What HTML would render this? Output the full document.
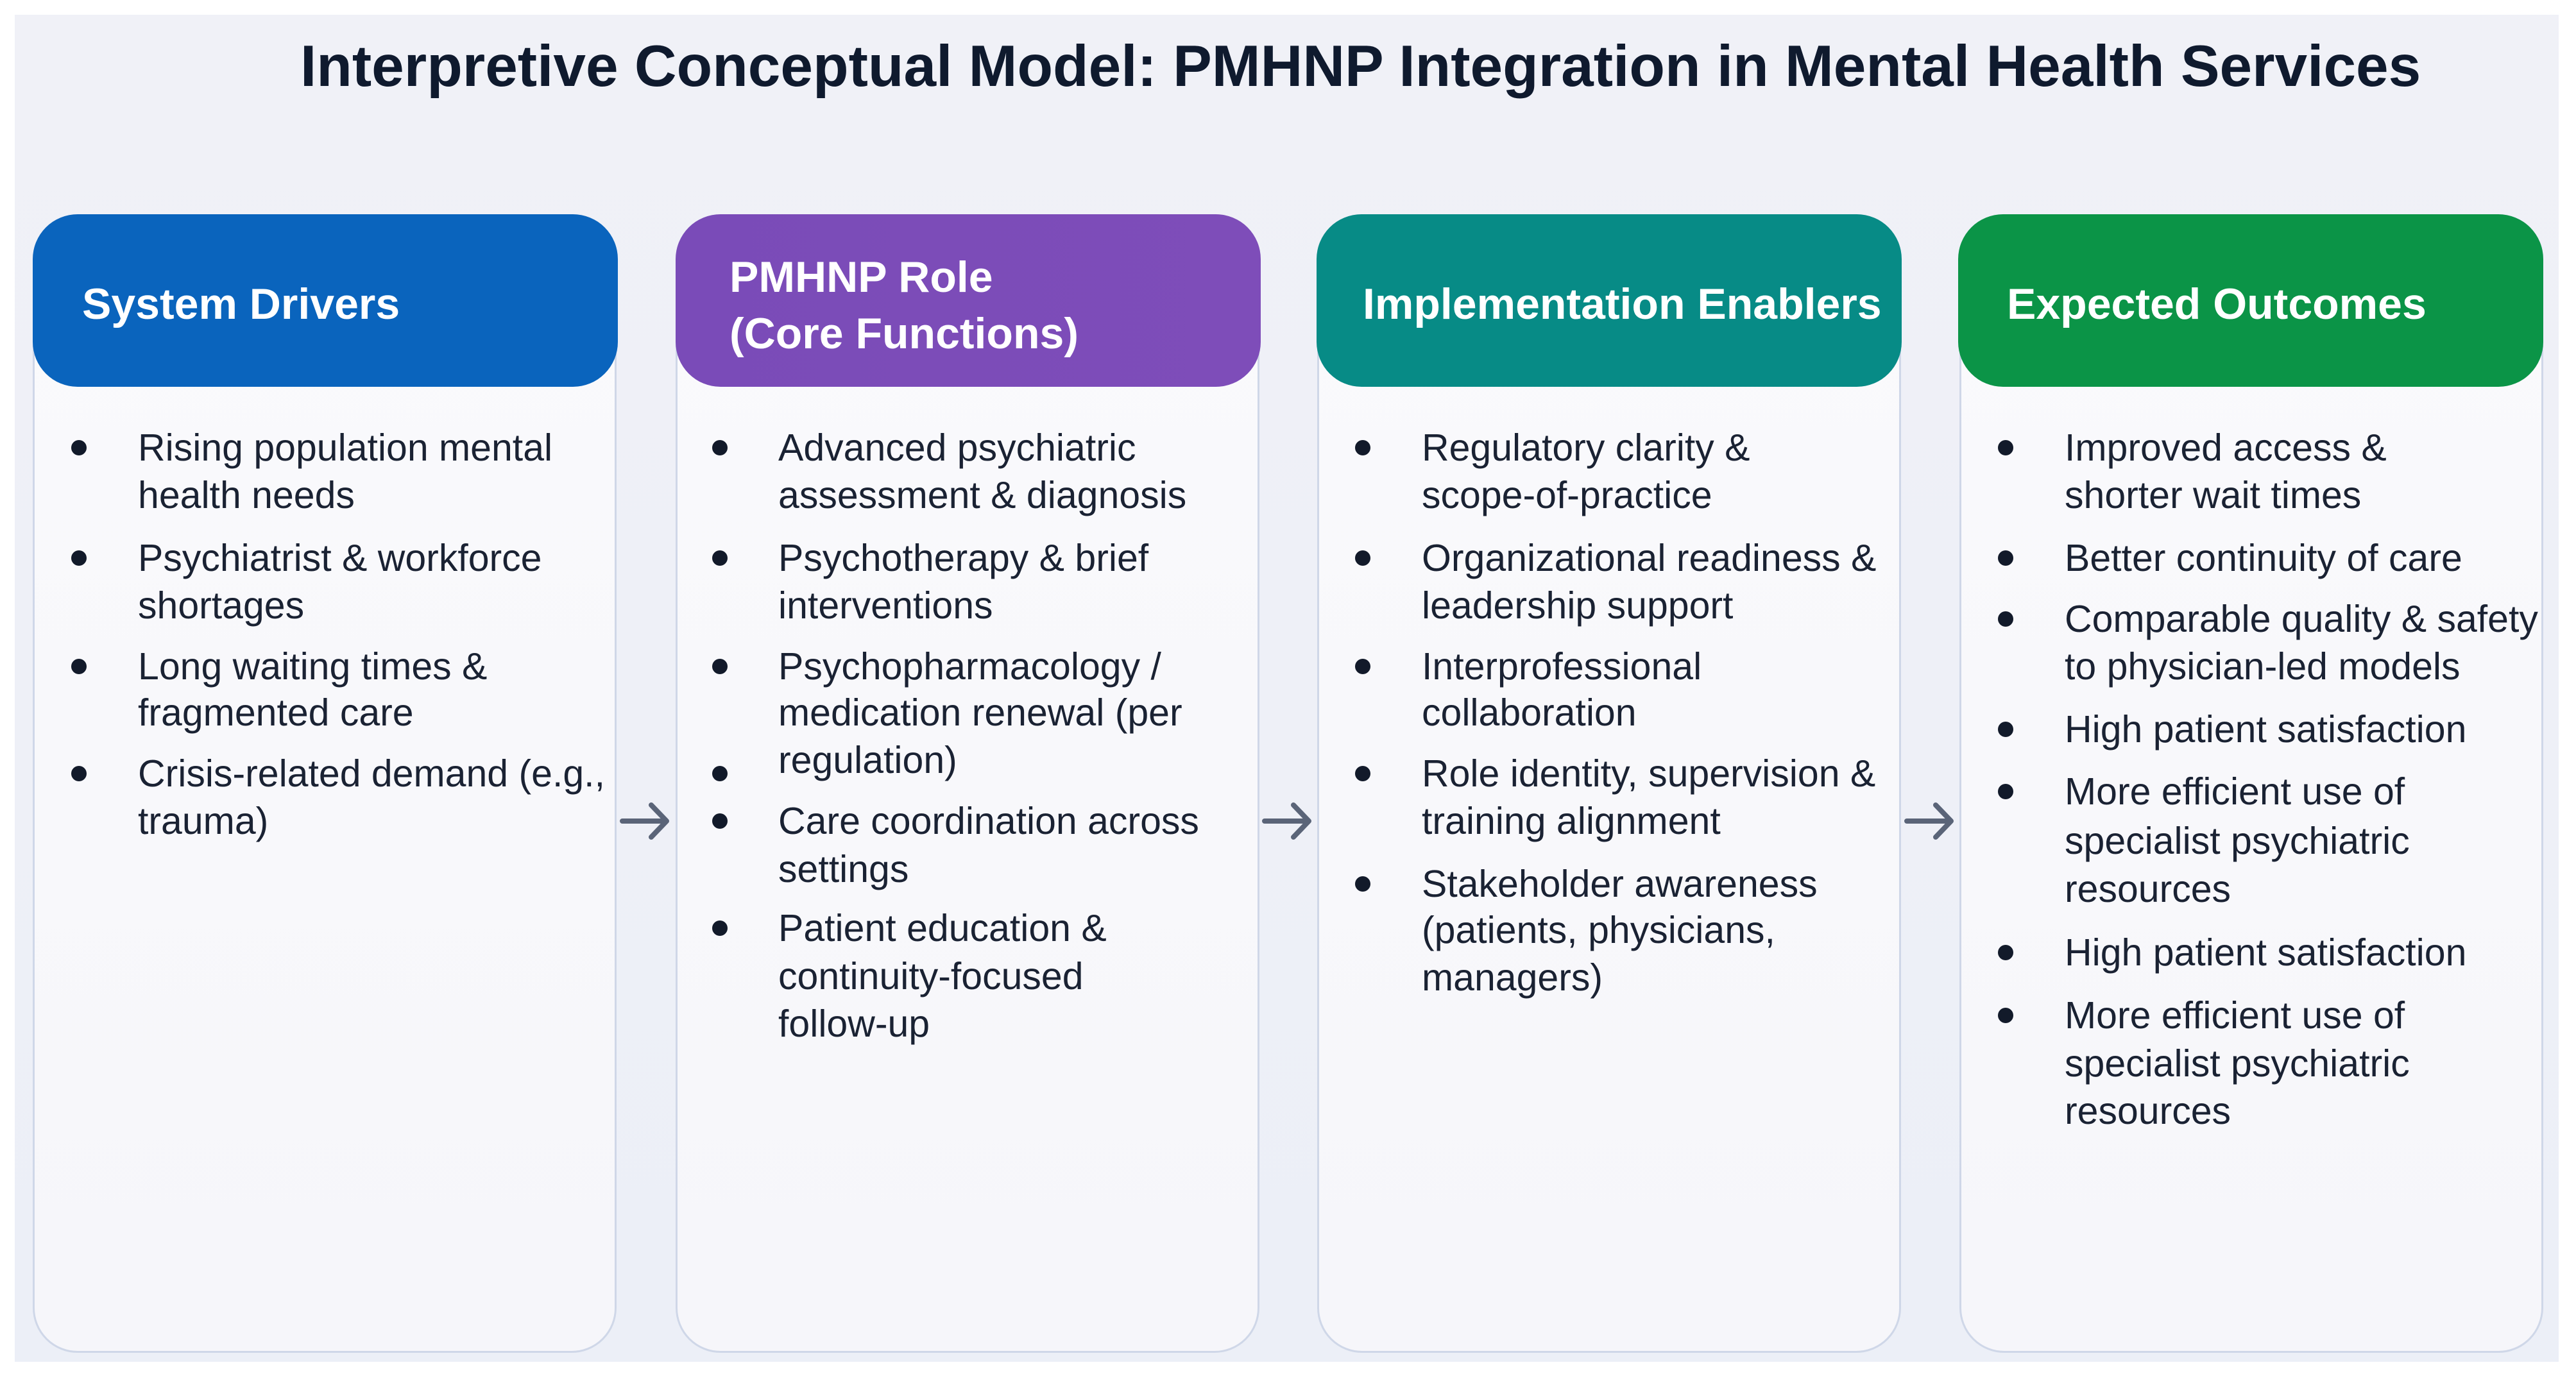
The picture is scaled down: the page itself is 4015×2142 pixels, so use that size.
<!DOCTYPE html>
<html><head><meta charset="utf-8"><style>
html,body{margin:0;padding:0;background:#fff;}
body{width:4015px;height:2142px;position:relative;overflow:hidden;font-family:"Liberation Sans",sans-serif;}
.panel{position:absolute;left:23px;top:23px;width:3965px;height:2100px;background:linear-gradient(180deg,#f0f1f7,#eceff7);}
.title{position:absolute;left:468px;top:52px;font-size:91px;font-weight:bold;color:#0f1a2e;white-space:nowrap;}
.card{position:absolute;top:334px;width:910px;height:1775px;background:linear-gradient(180deg,#fafafc,#f6f6fa);border:3px solid #cfd7e8;border-radius:70px;box-sizing:border-box;}
.hdr{position:absolute;top:334px;width:912px;height:269px;border-radius:70px;color:#fff;font-weight:bold;font-size:68px;box-sizing:border-box;}
.hdr span{position:absolute;white-space:nowrap;line-height:1;}
.t{position:absolute;font-size:59px;color:#1a2233;white-space:nowrap;line-height:74px;height:74px;}
.b{position:absolute;width:24px;height:24px;border-radius:50%;background:#121a2a;}
.arr{position:absolute;}
</style></head><body>
<div class="panel"></div>
<div class="title">Interpretive Conceptual Model: PMHNP Integration in Mental Health Services</div>

<div class="card" style="left:51px"></div>
<div class="card" style="left:1053px"></div>
<div class="card" style="left:2053px"></div>
<div class="card" style="left:3054px"></div>

<div class="hdr" style="left:51px;background:#0a64bd"><span style="left:77px;top:106px">System Drivers</span></div>
<div class="hdr" style="left:1053px;background:linear-gradient(90deg,#7a4bb8,#7e4db9)"><span style="left:84px;top:64px">PMHNP Role</span><span style="left:84px;top:152px">(Core Functions)</span></div>
<div class="hdr" style="left:2052px;background:#078b86"><span style="left:72px;top:106px">Implementation Enablers</span></div>
<div class="hdr" style="left:3052px;background:#0b9447"><span style="left:76px;top:106px">Expected Outcomes</span></div>

<!-- arrows -->
<svg class="arr" style="left:965px;top:1245px" width="85" height="70"><path d="M5 35 H72 M50 10 L74 35 L50 60" fill="none" stroke="#5a6478" stroke-width="8" stroke-linecap="round" stroke-linejoin="round"/></svg>
<svg class="arr" style="left:1966px;top:1245px" width="85" height="70"><path d="M5 35 H72 M50 10 L74 35 L50 60" fill="none" stroke="#5a6478" stroke-width="8" stroke-linecap="round" stroke-linejoin="round"/></svg>
<svg class="arr" style="left:2967px;top:1245px" width="85" height="70"><path d="M5 35 H72 M50 10 L74 35 L50 60" fill="none" stroke="#5a6478" stroke-width="8" stroke-linecap="round" stroke-linejoin="round"/></svg>

<!-- Col1 -->
<div class="b" style="left:111px;top:686px"></div>
<div class="t" style="left:215px;top:661px">Rising population mental</div>
<div class="t" style="left:215px;top:735px">health needs</div>
<div class="b" style="left:111px;top:858px"></div>
<div class="t" style="left:215px;top:833px">Psychiatrist &amp; workforce</div>
<div class="t" style="left:215px;top:907px">shortages</div>
<div class="b" style="left:111px;top:1027px"></div>
<div class="t" style="left:215px;top:1002px">Long waiting times &amp;</div>
<div class="t" style="left:215px;top:1074px">fragmented care</div>
<div class="b" style="left:111px;top:1194px"></div>
<div class="t" style="left:215px;top:1169px">Crisis-related demand (e.g.,</div>
<div class="t" style="left:215px;top:1243px">trauma)</div>

<!-- Col2 -->
<div class="b" style="left:1110px;top:686px"></div>
<div class="t" style="left:1213px;top:661px">Advanced psychiatric</div>
<div class="t" style="left:1213px;top:735px">assessment &amp; diagnosis</div>
<div class="b" style="left:1110px;top:858px"></div>
<div class="t" style="left:1213px;top:833px">Psychotherapy &amp; brief</div>
<div class="t" style="left:1213px;top:907px">interventions</div>
<div class="b" style="left:1110px;top:1027px"></div>
<div class="t" style="left:1213px;top:1002px">Psychopharmacology /</div>
<div class="t" style="left:1213px;top:1074px">medication renewal (per</div>
<div class="t" style="left:1213px;top:1148px">regulation)</div>
<div class="b" style="left:1110px;top:1194px"></div>
<div class="b" style="left:1110px;top:1268px"></div>
<div class="t" style="left:1213px;top:1243px">Care coordination across</div>
<div class="t" style="left:1213px;top:1318px">settings</div>
<div class="b" style="left:1110px;top:1435px"></div>
<div class="t" style="left:1213px;top:1410px">Patient education &amp;</div>
<div class="t" style="left:1213px;top:1485px">continuity-focused</div>
<div class="t" style="left:1213px;top:1559px">follow-up</div>

<!-- Col3 -->
<div class="b" style="left:2112px;top:686px"></div>
<div class="t" style="left:2216px;top:661px">Regulatory clarity &amp;</div>
<div class="t" style="left:2216px;top:735px">scope-of-practice</div>
<div class="b" style="left:2112px;top:858px"></div>
<div class="t" style="left:2216px;top:833px">Organizational readiness &amp;</div>
<div class="t" style="left:2216px;top:907px">leadership support</div>
<div class="b" style="left:2112px;top:1027px"></div>
<div class="t" style="left:2216px;top:1002px">Interprofessional</div>
<div class="t" style="left:2216px;top:1074px">collaboration</div>
<div class="b" style="left:2112px;top:1194px"></div>
<div class="t" style="left:2216px;top:1169px">Role identity, supervision &amp;</div>
<div class="t" style="left:2216px;top:1243px">training alignment</div>
<div class="b" style="left:2112px;top:1366px"></div>
<div class="t" style="left:2216px;top:1341px">Stakeholder awareness</div>
<div class="t" style="left:2216px;top:1413px">(patients, physicians,</div>
<div class="t" style="left:2216px;top:1487px">managers)</div>

<!-- Col4 -->
<div class="b" style="left:3114px;top:686px"></div>
<div class="t" style="left:3218px;top:661px">Improved access &amp;</div>
<div class="t" style="left:3218px;top:735px">shorter wait times</div>
<div class="b" style="left:3114px;top:858px"></div>
<div class="t" style="left:3218px;top:833px">Better continuity of care</div>
<div class="b" style="left:3114px;top:953px"></div>
<div class="t" style="left:3218px;top:928px">Comparable quality &amp; safety</div>
<div class="t" style="left:3218px;top:1002px">to physician-led models</div>
<div class="b" style="left:3114px;top:1125px"></div>
<div class="t" style="left:3218px;top:1100px">High patient satisfaction</div>
<div class="b" style="left:3114px;top:1222px"></div>
<div class="t" style="left:3218px;top:1197px">More efficient use of</div>
<div class="t" style="left:3218px;top:1274px">specialist psychiatric</div>
<div class="t" style="left:3218px;top:1349px">resources</div>
<div class="b" style="left:3114px;top:1473px"></div>
<div class="t" style="left:3218px;top:1448px">High patient satisfaction</div>
<div class="b" style="left:3114px;top:1571px"></div>
<div class="t" style="left:3218px;top:1546px">More efficient use of</div>
<div class="t" style="left:3218px;top:1621px">specialist psychiatric</div>
<div class="t" style="left:3218px;top:1695px">resources</div>
</body></html>
